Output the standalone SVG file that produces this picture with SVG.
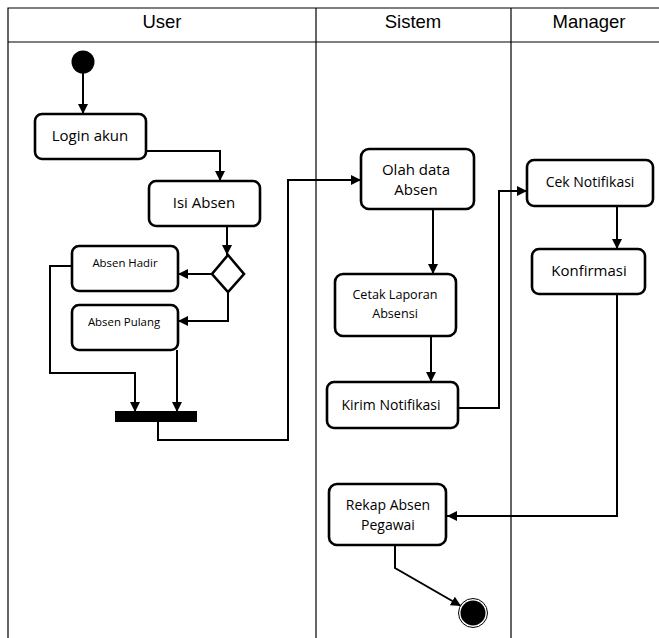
<svg xmlns="http://www.w3.org/2000/svg" width="659" height="638" viewBox="0 0 659 638">
<style>
.lane{stroke:#000;stroke-width:1.2;fill:none}
.hdr{font-family:"Liberation Sans",Arial,sans-serif;font-size:18.5px;text-anchor:middle;fill:#000}
.box{fill:#fff;stroke:#000;stroke-width:2.6}
.t{font-family:"Open Sans","DejaVu Sans",sans-serif;font-size:14px;text-anchor:middle;fill:#000}
.tl{font-size:15px}
.ts{font-family:"Open Sans","DejaVu Sans",sans-serif;font-size:11.4px;text-anchor:middle;fill:#000}
.c{fill:none;stroke:#000;stroke-width:2;marker-end:url(#ah)}
</style>
<defs>
<marker id="ah" viewBox="0 0 10 10" refX="10" refY="5" markerWidth="5" markerHeight="5" orient="auto" markerUnits="strokeWidth">
<path d="M0,0 L10,5 L0,10 z" fill="#000"/>
</marker>
</defs>
<rect width="659" height="638" fill="#fff"/>
<g id="lanes">
<path class="lane" d="M8,638 V8 H659 M8,42 H659 M316,8 V638 M511,8 V638"/>
<text class="hdr" x="162" y="28">User</text>
<text class="hdr" x="413" y="28">Sistem</text>
<text class="hdr" x="589" y="28">Manager</text>
</g>
<g id="connectors">
<path class="c" d="M83,73 V114"/>
<path class="c" d="M146,151 H220 V181"/>
<path class="c" d="M227,226 V255"/>
<path class="c" d="M212,274 H178"/>
<path class="c" d="M228,292 V321 H178"/>
<path class="c" d="M72,266 H50 V373 H135 V412"/>
<path class="c" d="M177,350 V412"/>
<path class="c" d="M158,422 V440 H288 V180 H361"/>
<path class="c" d="M433,209 V274"/>
<path class="c" d="M431,336 V382"/>
<path class="c" d="M458,408 H499 V191 H527"/>
<path class="c" d="M617,206 V249"/>
<path class="c" d="M617,294 V516 H447"/>
<path class="c" d="M395,545 V568 L461,606"/>
</g>
<g id="start"><circle cx="83" cy="62" r="11.5" fill="#000"/></g>
<g id="login"><rect class="box" x="35" y="114" width="111" height="45" rx="7"/><text class="t tl" x="90" y="141">Login akun</text></g>
<g id="isi"><rect class="box" x="149" y="181" width="111" height="45" rx="7"/><text class="t tl" x="204" y="208">Isi Absen</text></g>
<g id="decision"><path class="box" d="M228,255 L244,274 L228,292 L212,274 z"/></g>
<g id="hadir"><rect class="box" x="72" y="246" width="106" height="45" rx="7"/><text class="ts" x="125" y="267">Absen Hadir</text></g>
<g id="pulang"><rect class="box" x="72" y="305" width="106" height="45" rx="7"/><text class="ts" x="124" y="326">Absen Pulang</text></g>
<g id="fork"><rect x="115" y="411" width="82" height="11" fill="#000"/></g>
<g id="olah"><rect class="box" x="361" y="149" width="113" height="60" rx="8"/><text class="t tl" x="416" y="175">Olah data</text><text class="t tl" x="416" y="195">Absen</text></g>
<g id="cetak"><rect class="box" x="335" y="274" width="121" height="62" rx="8"/><text class="t" x="395" y="299" style="font-size:12.6px">Cetak Laporan</text><text class="t" x="395" y="318" style="font-size:12.6px">Absensi</text></g>
<g id="kirim"><rect class="box" x="327" y="382" width="131" height="46" rx="7"/><text class="t" x="391" y="410">Kirim Notifikasi</text></g>
<g id="cek"><rect class="box" x="527" y="160" width="126" height="46" rx="7"/><text class="t" x="590" y="187">Cek Notifikasi</text></g>
<g id="konfirmasi"><rect class="box" x="532" y="249" width="113" height="45" rx="7"/><text class="t tl" x="589" y="276">Konfirmasi</text></g>
<g id="rekap"><rect class="box" x="329" y="484" width="117" height="61" rx="8"/><text class="t" x="388" y="510">Rekap Absen</text><text class="t" x="388" y="530">Pegawai</text></g>
<g id="end"><circle cx="473" cy="613" r="14.5" fill="#fff" stroke="#000" stroke-width="1"/><circle cx="473" cy="613" r="12.5" fill="#000"/></g>
</svg>
